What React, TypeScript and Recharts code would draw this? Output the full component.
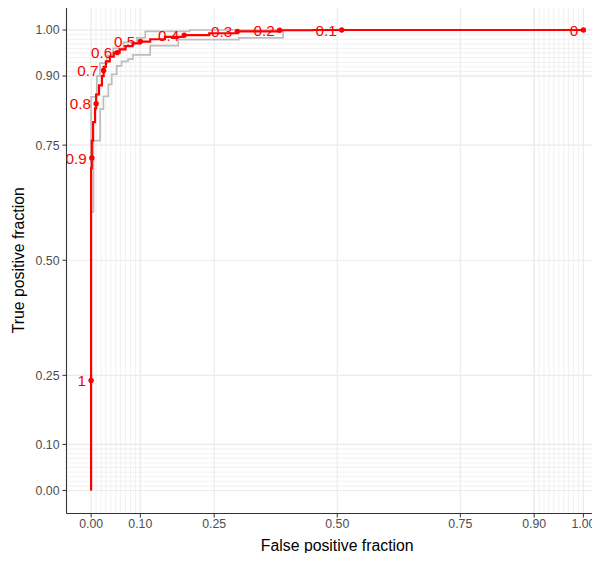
import React from 'react';
import {
  ComposedChart,
  Line,
  Scatter,
  XAxis,
  YAxis,
  ReferenceLine,
} from 'recharts';

const AXIS_TICKS = [0, 0.1, 0.25, 0.5, 0.75, 0.9, 1];
const MINOR_BREAKS = [
  0, 0.01, 0.02, 0.03, 0.04, 0.05, 0.06, 0.07, 0.08, 0.09, 0.1,
  0.9, 0.91, 0.92, 0.93, 0.94, 0.95, 0.96, 0.97, 0.98, 0.99, 1,
];

// empirical ROC (false positive fraction, true positive fraction)
const rocFpf = [
  0, 0, 0.0014, 0.0014, 0.004, 0.004, 0.008, 0.008, 0.0102, 0.0102, 0.016, 0.016,
  0.022, 0.022, 0.0254, 0.0254, 0.03, 0.03, 0.038, 0.038, 0.046, 0.046, 0.058, 0.058,
  0.07, 0.07, 0.084, 0.084, 0.1, 0.1, 0.12, 0.12, 0.15, 0.15, 0.189, 0.189,
  0.24, 0.24, 0.297, 0.297, 0.383, 0.383, 0.45, 0.45, 1,
];
const rocTpf = [
  0, 0.7, 0.7, 0.76, 0.76, 0.8, 0.8, 0.83, 0.83, 0.86, 0.86, 0.88,
  0.88, 0.9, 0.9, 0.92, 0.92, 0.932, 0.932, 0.942, 0.942, 0.951, 0.951, 0.958,
  0.958, 0.965, 0.965, 0.971, 0.971, 0.975, 0.975, 0.98, 0.98, 0.985, 0.985, 0.989,
  0.989, 0.993, 0.993, 0.997, 0.997, 0.9995, 0.9995, 1, 1,
];

// confidence band, upper edge
const upperFpf = [
  0, 0, 0.0116, 0.0116, 0.018, 0.018, 0.032, 0.032, 0.045, 0.045, 0.066, 0.066,
  0.093, 0.093, 0.11, 0.11, 0.2, 0.2, 1,
];
const upperTpf = [
  0, 0.855, 0.855, 0.9, 0.9, 0.928, 0.928, 0.945, 0.945, 0.96, 0.96, 0.973,
  0.973, 0.983, 0.983, 0.997, 0.997, 1, 1,
];

// confidence band, lower edge
const lowerFpf = [
  0, 0, 0.0047, 0.0047, 0.0183, 0.0183, 0.025, 0.025, 0.035, 0.035, 0.042, 0.042,
  0.052, 0.052, 0.062, 0.062, 0.075, 0.075, 0.085, 0.085, 0.12, 0.12, 0.177, 0.177,
  0.3, 0.3, 0.39, 0.39, 1,
];
const lowerTpf = [
  0, 0.605, 0.605, 0.76, 0.76, 0.828, 0.828, 0.856, 0.856, 0.882, 0.882, 0.904,
  0.904, 0.922, 0.922, 0.932, 0.932, 0.937, 0.937, 0.946, 0.946, 0.966, 0.966, 0.979,
  0.979, 0.983, 0.983, 1, 1,
];

// labelled cutoffs
const cutLabels = ['1', '0.9', '0.8', '0.7', '0.6', '0.5', '0.4', '0.3', '0.2', '0.1', '0'];
const cutFpf = [0, 0.0014, 0.0102, 0.0254, 0.053, 0.1, 0.189, 0.297, 0.383, 0.509, 1];
const cutTpf = [0.239, 0.722, 0.84, 0.912, 0.951, 0.975, 0.989, 0.997, 0.9995, 1, 1];

const toPoints = (xs: number[], ys: number[]) => xs.map((x, i) => ({ fpf: x, tpf: ys[i] }));

const rocData = toPoints(rocFpf, rocTpf);
const upperData = toPoints(upperFpf, upperTpf);
const lowerData = toPoints(lowerFpf, lowerTpf);
const cutData = cutLabels.map((label, i) => ({ fpf: cutFpf[i], tpf: cutTpf[i], label }));

const FONT = '"Liberation Sans", Arial, sans-serif';
const GRID = '#EBEBEB';
const RED = '#FF0000';
const BAND = '#BDBDBD';

const CutoffPoint = (props: any) => {
  const { cx, cy, payload } = props;
  if (cx == null || cy == null) return null;
  return (
    <g>
      <circle cx={cx} cy={cy} r={2.7} fill={RED} />
      <text
        x={cx - 5}
        y={cy}
        textAnchor="end"
        dominantBaseline="central"
        fill={RED}
        fontSize={15.3}
        fontFamily={FONT}
      >
        {payload.label}
      </text>
    </g>
  );
};

export default function App() {
  return (
    <div style={{ width: 600, height: 561, overflow: 'hidden', margin: -8, background: 'white' }}>
      <ComposedChart
        width={620}
        height={561}
        margin={{ top: 7, right: 12, bottom: 0, left: 0 }}
        style={{ fontFamily: FONT }}
      >
        <XAxis
          type="number"
          dataKey="fpf"
          domain={[-0.05, 1.05]}
          ticks={AXIS_TICKS}
          allowDataOverflow
          height={47.5}
          tickFormatter={(v: number) => v.toFixed(2)}
          tick={{ fill: '#4D4D4D', fontSize: 12.3 }}
          tickSize={4}
          tickMargin={2}
          axisLine={{ stroke: '#333333', strokeWidth: 1.1 }}
          tickLine={{ stroke: '#333333' }}
          label={{
            content: (p: any) => (
              <text
                x={p.viewBox.x + p.viewBox.width / 2}
                y={545}
                textAnchor="middle"
                dominantBaseline="central"
                fontSize={15.8}
                fill="#000"
                fontFamily={FONT}
              >
                False positive fraction
              </text>
            ),
          }}
        />
        <YAxis
          type="number"
          dataKey="tpf"
          domain={[-0.05, 1.05]}
          ticks={AXIS_TICKS}
          allowDataOverflow
          width={66.5}
          tickFormatter={(v: number) => v.toFixed(2)}
          tick={{ fill: '#4D4D4D', fontSize: 12.3 }}
          tickSize={4}
          tickMargin={3}
          axisLine={{ stroke: '#333333', strokeWidth: 1.1 }}
          tickLine={{ stroke: '#333333' }}
          label={{
            content: (p: any) => {
              const cy = p.viewBox.y + p.viewBox.height / 2;
              return (
                <text
                  x={18}
                  y={cy}
                  transform={`rotate(-90 18 ${cy})`}
                  textAnchor="middle"
                  dominantBaseline="central"
                  fontSize={15.8}
                  fill="#000"
                  fontFamily={FONT}
                >
                  True positive fraction
                </text>
              );
            },
          }}
        />

        {MINOR_BREAKS.map((v) => (
          <ReferenceLine key={`mx-${v}`} x={v} stroke={GRID} strokeWidth={0.7} />
        ))}
        {MINOR_BREAKS.map((v) => (
          <ReferenceLine key={`my-${v}`} y={v} stroke={GRID} strokeWidth={0.7} />
        ))}
        {AXIS_TICKS.map((v) => (
          <ReferenceLine key={`gx-${v}`} x={v} stroke={GRID} strokeWidth={1.2} />
        ))}
        {AXIS_TICKS.map((v) => (
          <ReferenceLine key={`gy-${v}`} y={v} stroke={GRID} strokeWidth={1.2} />
        ))}
        <ReferenceLine y={1.05} stroke="#333333" strokeWidth={1.1} />

        <Line
          data={upperData}
          dataKey="tpf"
          type="linear"
          stroke={BAND}
          strokeWidth={1.7}
          dot={false}
          activeDot={false}
          isAnimationActive={false}
        />
        <Line
          data={lowerData}
          dataKey="tpf"
          type="linear"
          stroke={BAND}
          strokeWidth={1.7}
          dot={false}
          activeDot={false}
          isAnimationActive={false}
        />
        <Line
          data={rocData}
          dataKey="tpf"
          type="linear"
          stroke={RED}
          strokeWidth={2.2}
          dot={false}
          activeDot={false}
          isAnimationActive={false}
        />
        <Scatter
          data={cutData}
          dataKey="tpf"
          shape={CutoffPoint}
          isAnimationActive={false}
        />
      </ComposedChart>
    </div>
  );
}
